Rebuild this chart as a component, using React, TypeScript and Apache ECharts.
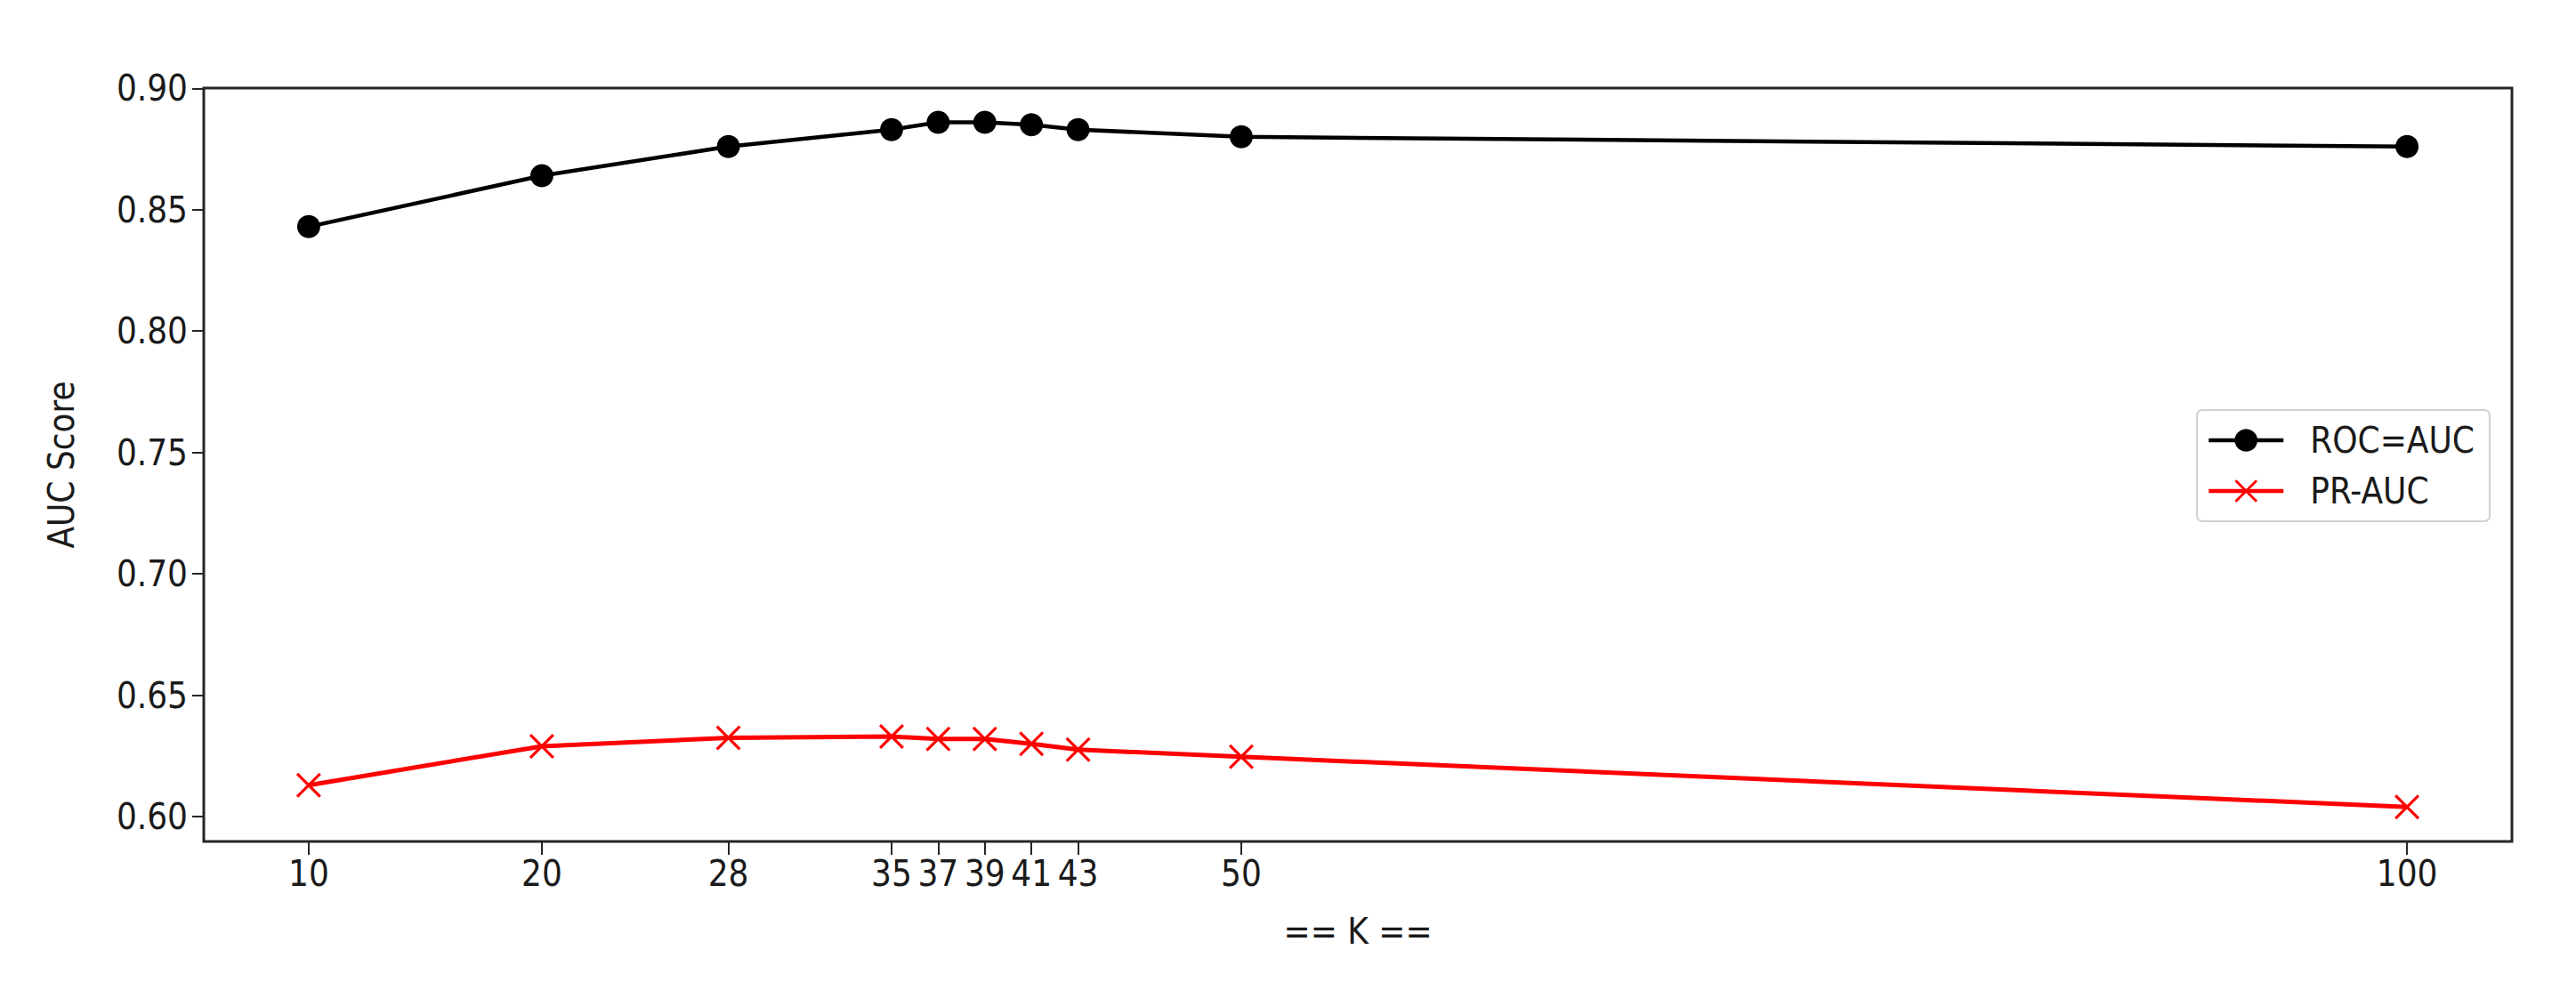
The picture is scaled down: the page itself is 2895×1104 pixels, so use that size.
import React from "react";
import * as echarts from "echarts";

const kValues = [10, 20, 28, 35, 37, 39, 41, 43, 50, 100];
const rocAuc = [0.843, 0.864, 0.876, 0.883, 0.886, 0.886, 0.885, 0.883, 0.88, 0.876];
const prAuc = [0.613, 0.629, 0.6325, 0.633, 0.632, 0.632, 0.63, 0.6276, 0.6247, 0.604];
const yTicks = [0.6, 0.65, 0.7, 0.75, 0.8, 0.85, 0.9];

const FONT = "'DejaVu Sans Condensed', 'DejaVu Sans', sans-serif";
const TEXT = "#1a1a1a";
const AXIS = "#262626";

// filled cross so it renders like matplotlib's "x" marker
const h = 0.8;
const crossPath =
    "path://M0," + h + "L" + h + ",0L5," + (5 - h) + "L" + (10 - h) + ",0L10," + h +
    "L" + (5 + h) + ",5L10," + (10 - h) + "L" + (10 - h) + ",10L5," + (5 + h) +
    "L" + h + ",10L0," + (10 - h) + "L" + (5 - h) + ",5Z";

const App: React.FC = () => {
    const chartRef = React.useRef<HTMLDivElement>(null);

    React.useEffect(() => {
        if (!chartRef.current) return;
        document.body.style.margin = "0";

        const chart = echarts.init(chartRef.current, undefined, { renderer: "svg" });

        const option = {
            animation: false,
            backgroundColor: "#ffffff",
            grid: {
                left: 229,
                right: 72,
                top: 99,
                bottom: 158,
                show: true,
                borderColor: AXIS,
                borderWidth: 3,
                backgroundColor: "transparent",
            },
            legend: {
                orient: "vertical",
                left: 2469,
                top: 461,
                padding: [14, 17, 14, 11],
                itemWidth: 84,
                itemHeight: 32,
                itemGap: 17,
                backgroundColor: "#ffffff",
                borderColor: "#d0d0d0",
                borderWidth: 2,
                borderRadius: 6,
                lineStyle: { width: 4.5 },
                textStyle: {
                    fontFamily: FONT,
                    fontSize: 40,
                    color: TEXT,
                    lineHeight: 40,
                    padding: [0, 0, 0, 25],
                },
                data: ["ROC=AUC", "PR-AUC"],
            },
            xAxis: {
                type: "value",
                min: 5.5,
                max: 104.5,
                name: "== K ==",
                nameLocation: "middle",
                nameGap: 81,
                nameTextStyle: { fontFamily: FONT, fontSize: 40, color: TEXT },
                axisLine: { show: false },
                splitLine: { show: false },
                axisTick: {
                    show: true,
                    length: 15,
                    lineStyle: { color: AXIS, width: 2 },
                    customValues: kValues,
                },
                axisLabel: {
                    fontFamily: FONT,
                    fontSize: 40,
                    color: TEXT,
                    margin: 16,
                    customValues: kValues,
                },
            },
            yAxis: {
                type: "value",
                min: 0.5898,
                max: 0.9001,
                name: "AUC Score",
                nameLocation: "middle",
                nameRotate: 90,
                nameGap: 140,
                nameTextStyle: { fontFamily: FONT, fontSize: 40, color: TEXT },
                axisLine: { show: false },
                splitLine: { show: false },
                axisTick: {
                    show: true,
                    length: 13,
                    lineStyle: { color: AXIS, width: 2 },
                    customValues: yTicks,
                },
                axisLabel: {
                    fontFamily: FONT,
                    fontSize: 40,
                    color: TEXT,
                    margin: 18,
                    customValues: yTicks,
                    formatter: (v: number) => v.toFixed(2),
                },
            },
            series: [
                {
                    name: "ROC=AUC",
                    type: "line",
                    symbol: "circle",
                    symbolSize: 26,
                    lineStyle: { color: "#000000", width: 4.5 },
                    itemStyle: { color: "#000000" },
                    data: kValues.map((k, i) => [k, rocAuc[i]]),
                },
                {
                    name: "PR-AUC",
                    type: "line",
                    symbol: crossPath,
                    symbolSize: 28,
                    lineStyle: { color: "#ff0000", width: 5 },
                    itemStyle: { color: "#ff0000" },
                    data: kValues.map((k, i) => [k, prAuc[i]]),
                },
            ],
        };

        chart.setOption(option as any);

        const handleResize = () => {
            chart.resize();
        };
        window.addEventListener("resize", handleResize);

        return () => {
            window.removeEventListener("resize", handleResize);
            chart.dispose();
        };
    }, []);

    return <div ref={chartRef} style={{ width: "2895px", height: "1104px" }} />;
};

export default App;
